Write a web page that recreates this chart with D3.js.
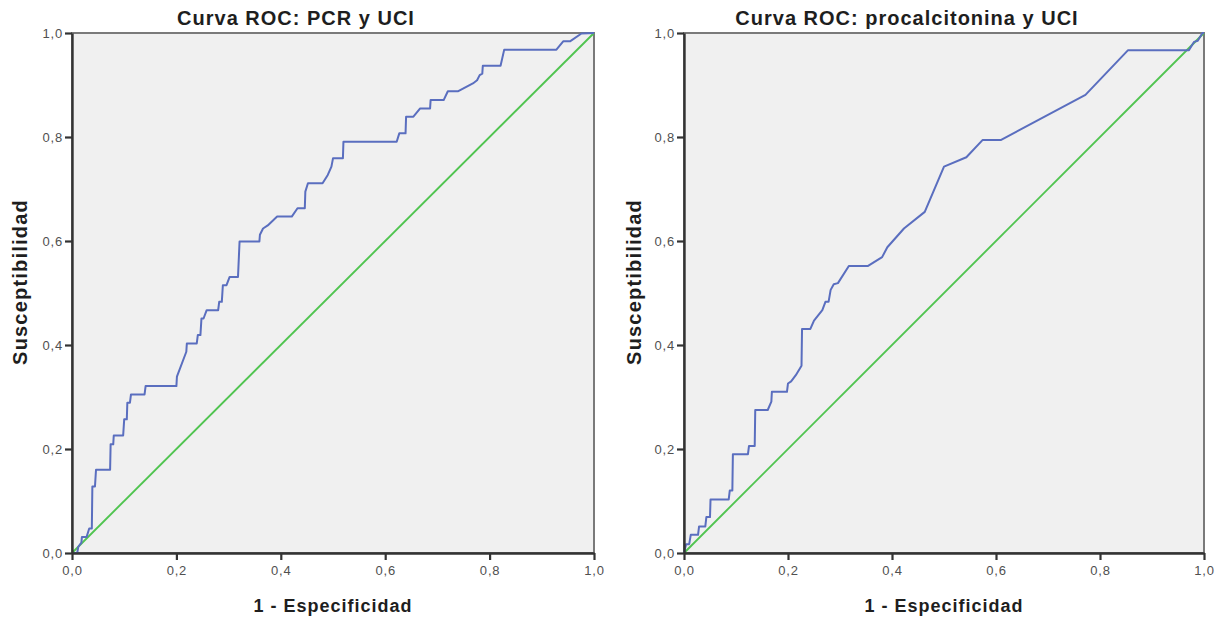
<!DOCTYPE html>
<html>
<head>
<meta charset="utf-8">
<script src="https://cdn.jsdelivr.net/npm/d3@7"></script>
<style>
  body { margin: 0; background: #fff; }
  svg { display: block; font-family: "Liberation Sans", Arial, sans-serif; }
</style>
</head>
<body>
<svg id="chart" width="1224" height="620"></svg>
<script>
// ROC curve data (1 - especificidad, susceptibilidad)
const pcrFpr = [0, 0.010, 0.012, 0.018, 0.019, 0.028, 0.033, 0.038, 0.039, 0.044, 0.046, 0.073, 0.074, 0.079, 0.080, 0.098,
  0.100, 0.105, 0.106, 0.111, 0.113, 0.139, 0.141, 0.200, 0.201, 0.219, 0.220, 0.239, 0.241, 0.246, 0.248, 0.252, 0.258,
  0.280, 0.282, 0.287, 0.289, 0.296, 0.302, 0.318, 0.321, 0.359, 0.360, 0.366, 0.375, 0.393, 0.421, 0.432, 0.446, 0.447,
  0.452, 0.480, 0.490, 0.497, 0.500, 0.519, 0.520, 0.622, 0.627, 0.639, 0.640, 0.654, 0.667, 0.686, 0.687, 0.712, 0.720,
  0.740, 0.768, 0.776, 0.781, 0.786, 0.787, 0.821, 0.828, 0.928, 0.941, 0.954, 0.976, 1];
const pcrTpr = [0, 0, 0.012, 0.020, 0.031, 0.031, 0.047, 0.047, 0.128, 0.128, 0.160, 0.160, 0.209, 0.209, 0.226, 0.226,
  0.257, 0.257, 0.289, 0.289, 0.305, 0.305, 0.321, 0.321, 0.339, 0.387, 0.403, 0.403, 0.419, 0.419, 0.451, 0.451, 0.467,
  0.467, 0.483, 0.483, 0.515, 0.515, 0.531, 0.531, 0.599, 0.599, 0.612, 0.624, 0.630, 0.647, 0.647, 0.663, 0.663, 0.695,
  0.711, 0.711, 0.727, 0.743, 0.759, 0.759, 0.791, 0.791, 0.807, 0.807, 0.839, 0.839, 0.855, 0.855, 0.871, 0.871, 0.888,
  0.888, 0.903, 0.909, 0.919, 0.922, 0.937, 0.937, 0.968, 0.968, 0.984, 0.984, 0.999, 1];

const pctFpr = [0, 0.004, 0.010, 0.013, 0.027, 0.029, 0.041, 0.043, 0.050, 0.051, 0.086, 0.088, 0.093, 0.094, 0.123, 0.125,
  0.136, 0.137, 0.161, 0.168, 0.169, 0.198, 0.200, 0.206, 0.215, 0.226, 0.227, 0.243, 0.250, 0.266, 0.272, 0.278, 0.282,
  0.288, 0.296, 0.317, 0.354, 0.381, 0.391, 0.423, 0.463, 0.500, 0.543, 0.574, 0.609, 0.772, 0.854, 0.971, 0.981, 0.988,
  0.997, 1];
const pctTpr = [0, 0.017, 0.017, 0.035, 0.035, 0.051, 0.051, 0.069, 0.069, 0.103, 0.103, 0.120, 0.120, 0.190, 0.190, 0.206,
  0.206, 0.275, 0.275, 0.291, 0.310, 0.310, 0.326, 0.330, 0.342, 0.360, 0.431, 0.431, 0.447, 0.467, 0.483, 0.483, 0.506,
  0.517, 0.519, 0.552, 0.552, 0.569, 0.588, 0.624, 0.656, 0.743, 0.761, 0.794, 0.794, 0.881, 0.967, 0.967, 0.983, 0.985,
  1.0, 1];

const refLine = [0, 1];
const tickValues = [0, 0.2, 0.4, 0.6, 0.8, 1.0];
const titles = ['Curva ROC: PCR y UCI', 'Curva ROC: procalcitonina y UCI'];
const xLabel = '1 - Especificidad';
const yLabel = 'Susceptibilidad';

// panel geometry
const panels = [
  { left: 72, right: 594, fpr: pcrFpr, tpr: pcrTpr, title: titles[0], ylabX: 20 },
  { left: 684, right: 1204, fpr: pctFpr, tpr: pctTpr, title: titles[1], ylabX: 634 }
];
const plotTop = 33, plotBottom = 553;

const fmt = d => d3.format('.1f')(d).replace('.', ',');
const svg = d3.select('#chart');

panels.forEach(p => {
  const x = d3.scaleLinear().domain([0, 1]).range([p.left, p.right]);
  const y = d3.scaleLinear().domain([0, 1]).range([plotBottom, plotTop]);
  const g = svg.append('g');

  // plot background + frame
  g.append('rect')
    .attr('x', x(0)).attr('y', y(1))
    .attr('width', x(1) - x(0)).attr('height', y(0) - y(1))
    .attr('fill', '#f0f0f0')
    .attr('stroke', '#7a7a7a')
    .attr('stroke-width', 2);

  // diagonal reference
  g.append('line')
    .attr('x1', x(refLine[0])).attr('y1', y(refLine[0]))
    .attr('x2', x(refLine[1])).attr('y2', y(refLine[1]))
    .attr('stroke', '#50c450')
    .attr('stroke-width', 1.9);

  // ROC curve
  const line = d3.line()
    .x(i => x(p.fpr[i]))
    .y(i => y(p.tpr[i]));
  g.append('path')
    .datum(d3.range(p.fpr.length))
    .attr('d', line)
    .attr('fill', 'none')
    .attr('stroke', '#5a6ebf')
    .attr('stroke-width', 2)
    .attr('stroke-linejoin', 'round');

  // axes
  const xAxis = g.append('g')
    .attr('transform', `translate(0,${plotBottom})`)
    .call(d3.axisBottom(x).tickValues(tickValues).tickFormat(fmt).tickSize(7).tickSizeOuter(0));
  const yAxis = g.append('g')
    .attr('transform', `translate(${p.left},0)`)
    .call(d3.axisLeft(y).tickValues(tickValues).tickFormat(fmt).tickSize(7).tickSizeOuter(0));

  [xAxis, yAxis].forEach(a => {
    a.select('.domain').attr('stroke', '#333').attr('stroke-width', 2.4);
    a.selectAll('.tick line').attr('stroke', '#333').attr('stroke-width', 2.2);
    a.selectAll('.tick text')
      .attr('fill', '#505050')
      .style('font-size', '13px')
      .style('letter-spacing', '0.8px')
      .style('font-family', '"Liberation Sans", Arial, sans-serif');
  });
  xAxis.selectAll('.tick text').attr('y', 13).attr('dy', '0.71em');
  yAxis.selectAll('.tick text').attr('x', -9);

  // title
  svg.append('text')
    .attr('x', (p.left + p.right) / 2 - 37)
    .attr('y', 25)
    .attr('text-anchor', 'middle')
    .attr('font-weight', 'bold')
    .attr('font-size', 20)
    .attr('letter-spacing', 1)
    .attr('fill', '#1e1e1e')
    .text(p.title);

  // axis labels
  svg.append('text')
    .attr('x', (p.left + p.right) / 2)
    .attr('y', 612)
    .attr('text-anchor', 'middle')
    .attr('font-weight', 'bold')
    .attr('font-size', 18)
    .attr('letter-spacing', 1)
    .attr('fill', '#1e1e1e')
    .text(xLabel);

  svg.append('text')
    .attr('transform', `translate(${p.ylabX + 7},282) rotate(-90)`)
    .attr('text-anchor', 'middle')
    .attr('font-weight', 'bold')
    .attr('font-size', 20)
    .attr('letter-spacing', 1.2)
    .attr('fill', '#1e1e1e')
    .text(yLabel);
});
</script>
</body>
</html>
